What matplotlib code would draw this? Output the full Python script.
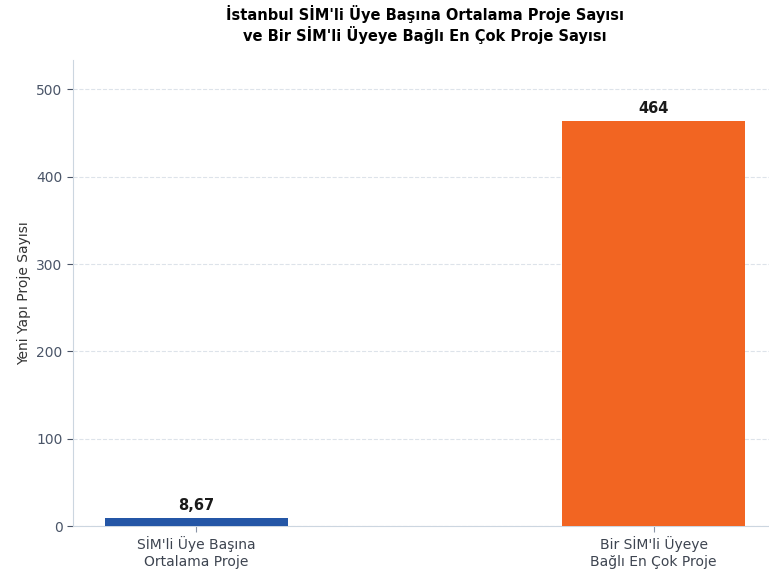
import matplotlib
matplotlib.use("Agg")
import matplotlib.pyplot as plt

categories = ["SİM'li Üye Başına\nOrtalama Proje", "Bir SİM'li Üyeye\nBağlı En Çok Proje"]
values = [8.67, 464]
value_labels = ["8,67", "464"]
colors = ["#2456a6", "#f26522"]
title = "İstanbul SİM'li Üye Başına Ortalama Proje Sayısı\nve Bir SİM'li Üyeye Bağlı En Çok Proje Sayısı"
ylabel = "Yeni Yapı Proje Sayısı"

plt.rcParams['font.family'] = ['DejaVu Sans']
fig = plt.figure(figsize=(7.69, 5.75), dpi=100)
ax = fig.add_axes([73/769, 1 - 526/575, (777 - 73)/769, (526 - 60)/575])

x = list(range(len(categories)))
bars = ax.bar(x, values, width=0.4, color=colors, zorder=3)
for xi, v, lab in zip(x, values, value_labels):
    ax.text(xi, v + 6, lab, ha='center', va='bottom', fontsize=10.5, fontweight='bold', color='#1a1a1a')

ax.set_xlim(-0.27, 1.27)
ax.set_ylim(0, 464 * 1.15)
ax.set_yticks([0, 100, 200, 300, 400, 500])
ax.set_xticks(x)
ax.set_xticklabels(categories, fontsize=10, color='#3d4450')
ax.tick_params(axis='y', labelsize=10, colors='#4a5568', length=4)
ax.tick_params(axis='x', colors='#8a94a6', labelcolor='#3d4450', length=4)
ax.set_ylabel(ylabel, fontsize=10, color='#333333')
ax.yaxis.grid(True, linestyle='--', color='#dde3ea', linewidth=0.8, zorder=0)
ax.set_axisbelow(True)
for s in ['top', 'right']:
    ax.spines[s].set_visible(False)
for s in ['left', 'bottom']:
    ax.spines[s].set_color('#ccd6e0')
ax.set_title(title, fontsize=10.5, fontweight='bold', pad=14)

fig.savefig("out.png", dpi=100)
